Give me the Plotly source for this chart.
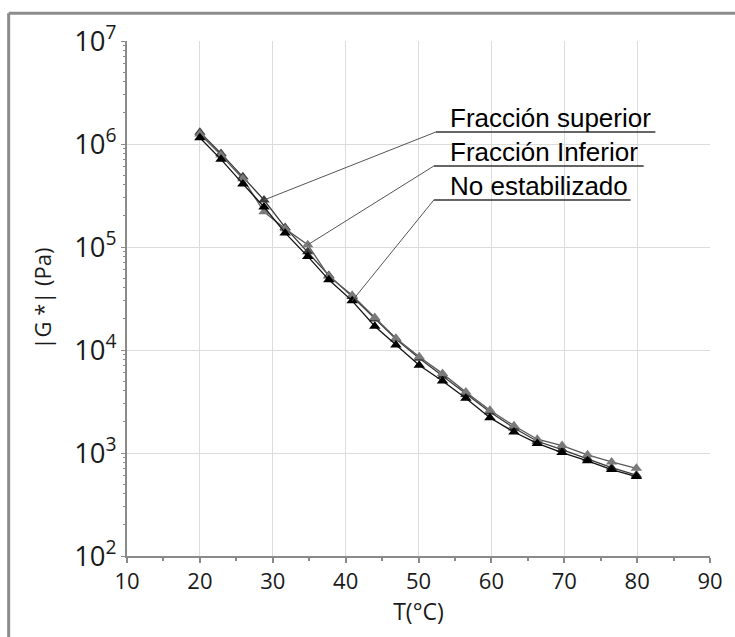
import math
import plotly.graph_objects as go

# ---- data ----
temperatura = [20, 22.9, 25.9, 28.8, 31.7, 34.8, 37.7, 40.9, 44.0, 46.9,
               50.1, 53.3, 56.5, 59.8, 63.1, 66.3, 69.7, 73.2, 76.5, 79.9]
g_superior = [1.30e6, 8.1e5, 4.8e5, 2.86e5, 1.55e5, 9.0e4, 5.3e4, 3.3e4, 2.0e4, 1.28e4,
              8.3e3, 5.6e3, 3.7e3, 2.5e3, 1.75e3, 1.30e3, 1.08e3, 8.8e2, 7.2e2, 6.1e2]
g_inferior = [1.25e6, 7.8e5, 4.6e5, 2.2e5, 1.5e5, 1.05e5, 5.2e4, 3.4e4, 2.07e4, 1.3e4,
              8.6e3, 5.9e3, 3.9e3, 2.6e3, 1.84e3, 1.36e3, 1.18e3, 9.6e2, 8.2e2, 7.1e2]
g_no_estab = [1.15e6, 7.1e5, 4.1e5, 2.45e5, 1.37e5, 8.1e4, 4.8e4, 3.0e4, 1.7e4, 1.12e4,
              7.1e3, 5.0e3, 3.4e3, 2.2e3, 1.6e3, 1.24e3, 1.01e3, 8.4e2, 6.9e2, 5.9e2]
series_names = ["Fracción superior", "Fracción Inferior", "No estabilizado"]
x_tick_vals = [10, 20, 30, 40, 50, 60, 70, 80, 90]

series = [g_superior, g_inferior, g_no_estab]
colors = ["#3a3a3a", "#7a7a7a", "#000000"]
line_colors = ["#3a3a3a", "#5a5a5a", "#111111"]
leader_idx = [3, 5, 7]

fig = go.Figure()
for vals, name, c, lc in zip(series, series_names, colors, line_colors):
    fig.add_trace(go.Scatter(
        x=temperatura, y=vals, name=name, mode="lines+markers",
        line=dict(color=lc, width=1.3),
        marker=dict(symbol="triangle-up", size=10, color=c),
        showlegend=False))

# leader lines + underlines for the labels
elbows = [(52.4, 6.117, 82.5), (52.1, 5.786, 80.9), (52.1, 5.456, 79.1)]
for vals, name, idx, (ex, ey, endx) in zip(series, series_names, leader_idx, elbows):
    fig.add_trace(go.Scatter(
        x=[temperatura[idx], ex], y=[vals[idx], 10 ** ey], mode="lines",
        line=dict(color="#555555", width=1), showlegend=False, hoverinfo="skip"))
    fig.add_trace(go.Scatter(
        x=[ex, endx], y=[10 ** ey, 10 ** ey], mode="lines",
        line=dict(color="#333333", width=1.6), showlegend=False, hoverinfo="skip"))
    fig.add_annotation(x=54.0, y=ey, text=name, showarrow=False,
                       xanchor="left", yanchor="bottom", yshift=-3,
                       font=dict(family="Liberation Sans, Arial", size=26, color="#000000"))

# outer frame (top and left edges visible)
frame = dict(type="line", xref="paper", yref="paper", line=dict(color="#8c8c8c", width=3))
fig.add_shape(**frame, x0=-0.203, x1=-0.203, y0=-0.2, y1=1.054)
fig.add_shape(**frame, x0=-0.203, x1=1.1, y0=1.054, y1=1.054)

axis_font = dict(family="Open Sans", size=22, color="#1a1a1a")
fig.update_layout(
    width=735, height=637,
    margin=dict(l=127, r=17, t=41, b=81),
    paper_bgcolor="white", plot_bgcolor="white",
    xaxis=dict(range=[10, 90], tickvals=x_tick_vals, showgrid=True, gridcolor="#dcdcdc",
               gridwidth=1, zeroline=False, showline=True, linecolor="#8a8a8a", linewidth=2,
               ticks="outside", ticklen=5, tickcolor="#8a8a8a", tickwidth=1.5,
               minor=dict(dtick=5, ticks="outside", ticklen=3, tickcolor="#8a8a8a", showgrid=False),
               tickfont=axis_font,
               title=dict(text="T(°C)", font=dict(family="Open Sans", size=23, color="#1a1a1a"),
                          standoff=6)),
    yaxis=dict(type="log", range=[2, 7], dtick=1, exponentformat="power",
               showgrid=True, gridcolor="#dcdcdc", gridwidth=1, zeroline=False,
               showline=True, linecolor="#8a8a8a", linewidth=2,
               ticks="outside", ticklen=4, tickcolor="#8a8a8a",
               minor=dict(ticks="outside", ticklen=2, tickcolor="#8a8a8a", showgrid=False),
               tickfont=axis_font,
               title=dict(text="|G *| (Pa)", font=dict(family="Open Sans", size=22, color="#1a1a1a"),
                          standoff=16)),
)

fig.write_html("out.html")
